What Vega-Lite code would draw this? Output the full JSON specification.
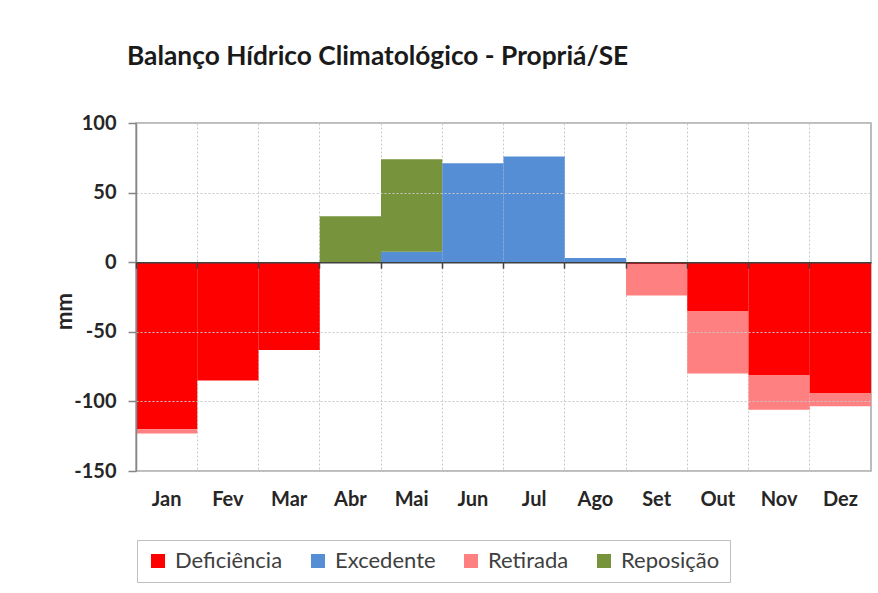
{
  "$schema": "https://vega.github.io/schema/vega-lite/v6.json",
  "autosize": {"type": "none"},
  "width": 735,
  "height": 348,
  "padding": {"left": 136, "top": 123, "right": 7, "bottom": 122},
  "background": "white",
  "title": {
    "text": "Balanço Hídrico Climatológico - Propriá/SE",
    "anchor": "start",
    "frame": "group",
    "dx": -9,
    "offset": 22,
    "baseline": "alphabetic",
    "font": "Lato",
    "fontSize": 26.3,
    "fontWeight": "bold",
    "color": "#1a1a1a"
  },
  "config": {
    "view": {"stroke": "#a6a6a6", "strokeWidth": 1.5},
    "font": "Lato"
  },
  "data": {
    "values": [
      {"mes": "Jan", "tipo": "Deficiência", "valor": -120, "ordem": 1},
      {"mes": "Jan", "tipo": "Retirada", "valor": -3, "ordem": 3},
      {"mes": "Fev", "tipo": "Deficiência", "valor": -85, "ordem": 1},
      {"mes": "Mar", "tipo": "Deficiência", "valor": -63, "ordem": 1},
      {"mes": "Abr", "tipo": "Reposição", "valor": 33, "ordem": 4},
      {"mes": "Mai", "tipo": "Excedente", "valor": 7.5, "ordem": 2},
      {"mes": "Mai", "tipo": "Reposição", "valor": 66.5, "ordem": 4},
      {"mes": "Jun", "tipo": "Excedente", "valor": 71, "ordem": 2},
      {"mes": "Jul", "tipo": "Excedente", "valor": 76, "ordem": 2},
      {"mes": "Ago", "tipo": "Excedente", "valor": 3, "ordem": 2},
      {"mes": "Set", "tipo": "Deficiência", "valor": -1.7, "ordem": 1},
      {"mes": "Set", "tipo": "Retirada", "valor": -22.3, "ordem": 3},
      {"mes": "Out", "tipo": "Deficiência", "valor": -35, "ordem": 1},
      {"mes": "Out", "tipo": "Retirada", "valor": -45, "ordem": 3},
      {"mes": "Nov", "tipo": "Deficiência", "valor": -81, "ordem": 1},
      {"mes": "Nov", "tipo": "Retirada", "valor": -25, "ordem": 3},
      {"mes": "Dez", "tipo": "Deficiência", "valor": -94, "ordem": 1},
      {"mes": "Dez", "tipo": "Retirada", "valor": -9.5, "ordem": 3}
    ]
  },
  "resolve": {"axis": {"x": "independent"}},
  "layer": [
    {
      "mark": {"type": "bar"},
      "encoding": {
        "x": {
          "field": "mes",
          "type": "nominal",
          "sort": ["Jan", "Fev", "Mar", "Abr", "Mai", "Jun", "Jul", "Ago", "Set", "Out", "Nov", "Dez"],
          "scale": {"paddingInner": 0, "paddingOuter": 0},
          "axis": {
            "orient": "bottom",
            "title": null,
            "labelAngle": 0,
            "labelFont": "Lato",
            "labelFontSize": 20,
            "labelFontWeight": "bold",
            "labelColor": "#262626",
            "labelPadding": 18,
            "ticks": false,
            "domain": false,
            "grid": true,
            "gridColor": "#c8c8c8",
            "gridDash": [2, 2],
            "gridWidth": 1,
            "bandPosition": 0
          }
        },
        "y": {
          "field": "valor",
          "type": "quantitative",
          "stack": "zero",
          "scale": {"domain": [-150, 100], "nice": false},
          "axis": {
            "title": "mm",
            "titleFont": "Lato",
            "titleFontSize": 22,
            "titleFontWeight": "bold",
            "titleColor": "#262626",
            "titleX": -72,
            "titleY": 188,
            "titleBaseline": "middle",
            "values": [-150, -100, -50, 0, 50, 100],
            "labelExpr": "'' + datum.value",
            "labelFont": "Lato",
            "labelFontSize": 20,
            "labelFontWeight": "bold",
            "labelColor": "#262626",
            "labelPadding": 12,
            "tickSize": 8,
            "tickColor": "#868686",
            "tickWidth": 1.5,
            "domainColor": "#868686",
            "domainWidth": 1.5,
            "grid": true,
            "gridColor": "#c8c8c8",
            "gridDash": [2, 2],
            "zindex": 1
          }
        },
        "color": {
          "field": "tipo",
          "type": "nominal",
          "scale": {
            "domain": ["Deficiência", "Excedente", "Retirada", "Reposição"],
            "range": ["#ff0000", "#558ed5", "#ff8080", "#77933c"]
          },
          "legend": {
            "title": null,
            "orient": "none",
            "legendX": 1,
            "legendY": 417,
            "direction": "horizontal",
            "symbolType": "square",
            "symbolSize": 196,
            "symbolStrokeWidth": 0,
            "labelFont": "Lato",
            "labelFontSize": 22,
            "labelColor": "#404040",
            "labelOffset": 6,
            "columnPadding": 24,
            "padding": 10,
            "strokeColor": "#bfbfbf",
            "fillColor": "white"
          }
        },
        "order": {"field": "ordem", "type": "quantitative"}
      }
    },
    {
      "mark": {"type": "bar", "opacity": 0},
      "encoding": {
        "x": {
          "field": "mes",
          "type": "nominal",
          "sort": ["Jan", "Fev", "Mar", "Abr", "Mai", "Jun", "Jul", "Ago", "Set", "Out", "Nov", "Dez"],
          "axis": {
            "orient": "bottom",
            "offset": -208.8,
            "title": null,
            "labels": false,
            "grid": false,
            "ticks": true,
            "tickSize": 6,
            "tickColor": "#404040",
            "tickWidth": 1.5,
            "domain": true,
            "domainColor": "#404040",
            "domainWidth": 1.5,
            "bandPosition": 0,
            "zindex": 2
          }
        },
        "y": {"field": "valor", "type": "quantitative", "stack": "zero"}
      }
    }
  ]
}
